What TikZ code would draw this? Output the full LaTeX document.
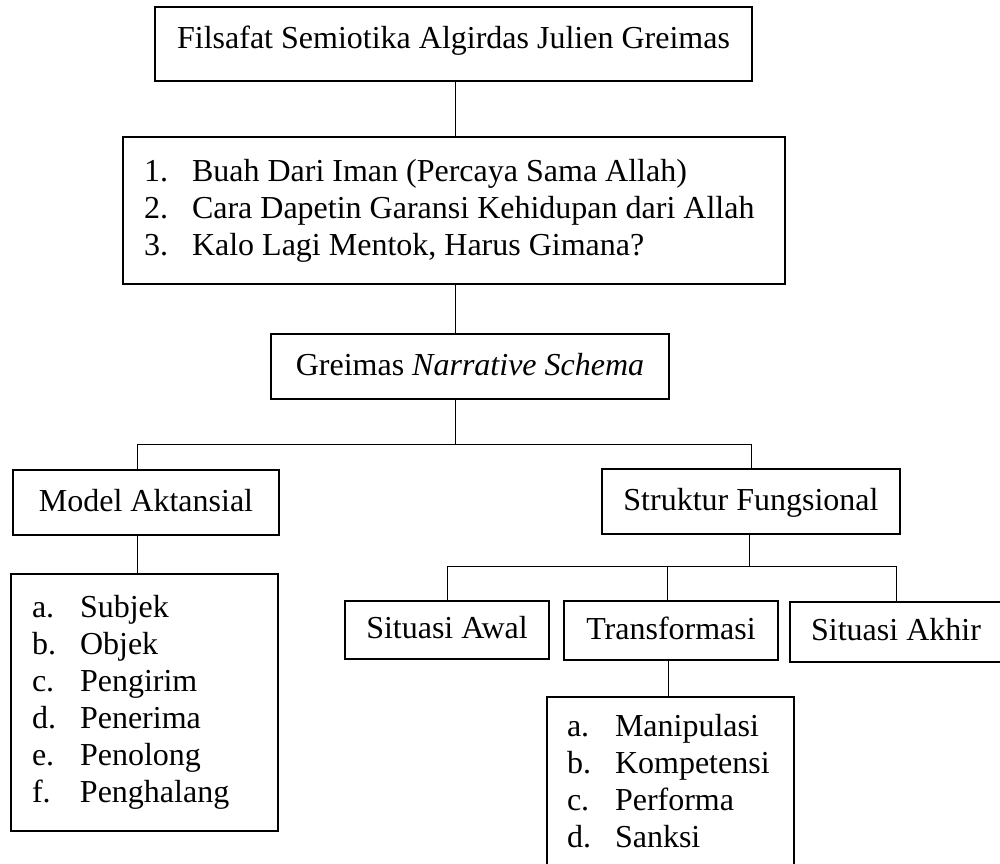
\documentclass[tikz,border=0pt]{standalone}
\usepackage{fontspec}
\setmainfont{Liberation Serif}

\tikzset{
    kotak/.style={draw, line width=1.8pt, inner sep=0pt, outer sep=0pt, anchor=north west, text height=23pt, text depth=6pt},
    daftar/.style={kotak, align=flush left, inner xsep=21pt, text height=, text depth=},
    garis/.style={line width=0.9pt},
}

\begin{document}
\begin{tikzpicture}[x=1pt, y=-1pt, font=\fontsize{32}{37}\selectfont]
    \useasboundingbox (0,0) rectangle (1000,863);
    \clip (0,0) rectangle (1000,863);
    \node[kotak, minimum width=597pt, text height=41pt, text depth=33pt] (judul) at (155,7) {Filsafat Semiotika Algirdas Julien Greimas};
    \node[daftar, text width=620pt, minimum height=147pt] (topik) at (123,137)
        {\makebox[48pt][l]{1.}Buah Dari Iman (Percaya Sama Allah)\\
         \makebox[48pt][l]{2.}\mbox{Cara Dapetin Garansi Kehidupan dari Allah}\\
         \makebox[48pt][l]{3.}Kalo Lagi Mentok, Harus Gimana?};
    \node[kotak, minimum width=398pt, minimum height=65pt] (skema) at (271,334) {Greimas \textit{Narrative Schema}};
    \node[kotak, minimum width=266pt, minimum height=65pt] (aktan) at (13,470) {Model Aktansial};
    \node[kotak, minimum width=298pt, minimum height=65pt] (struktur) at (602,469) {Struktur Fungsional};
    \node[daftar, text width=225pt, minimum height=257pt] (aktor) at (11,574)
        {\makebox[48pt][l]{a.}Subjek\\ \makebox[48pt][l]{b.}Objek\\ \makebox[48pt][l]{c.}Pengirim\\
         \makebox[48pt][l]{d.}Penerima\\ \makebox[48pt][l]{e.}Penolong\\ \makebox[48pt][l]{f.}Penghalang};
    \node[kotak, minimum width=204pt, minimum height=58pt] (awal) at (345,601) {Situasi Awal};
    \node[kotak, minimum width=214pt, minimum height=59pt] (trans) at (564,601) {Transformasi};
    \node[kotak, minimum width=212pt, minimum height=60pt] (akhir) at (790,602) {Situasi Akhir};
    \node[daftar, inner xsep=20pt, text width=207pt, minimum height=169pt] (tahap) at (547,697)
        {\makebox[48pt][l]{a.}Manipulasi\\ \makebox[48pt][l]{b.}Kompetensi\\
         \makebox[48pt][l]{c.}Performa\\ \makebox[48pt][l]{d.}Sanksi};
    \coordinate (cabang) at (455,444);
    \coordinate (cabang2) at (749,566);
    \draw[garis] (judul.south -| cabang) -- (topik.north -| cabang);
    \draw[garis] (topik.south -| cabang) -- (skema.north -| cabang);
    \draw[garis] (skema.south -| cabang) -- (cabang);
    \draw[garis] ([xshift=-9pt]aktan.north) |- (cabang) -| (struktur.north);
    \draw[garis] ([xshift=-9pt]aktan.south) -- ([xshift=-9pt]aktan.south |- aktor.north);
    \draw[garis] (struktur.south -| cabang2) -- (cabang2);
    \draw[garis] (awal.north) |- (cabang2) -| (akhir.north);
    \draw[garis] ([xshift=-4pt]trans.north) -- ([xshift=-4pt]trans.north |- cabang2);
    \draw[garis] ([xshift=-3pt]trans.south) -- ([xshift=-3pt]trans.south |- tahap.north);
\end{tikzpicture}
\end{document}
